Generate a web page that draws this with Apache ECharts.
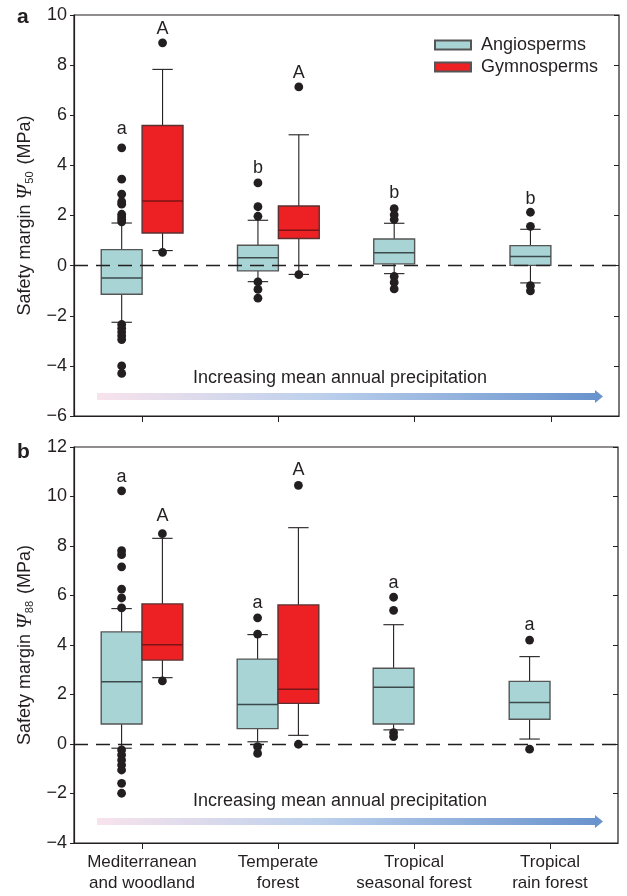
<!DOCTYPE html>
<html><head><meta charset="utf-8">
<script src="https://cdn.jsdelivr.net/npm/echarts@6/dist/echarts.min.js"></script>
<style>html,body{margin:0;padding:0;background:#fff}#c{width:627px;height:896px}</style>
</head><body><div id="c"></div>
<script>
// ---------- data ----------
const categories = ['Mediterranean\nand woodland', 'Temperate\nforest', 'Tropical\nseasonal forest', 'Tropical\nrain forest'];
const groupNames = ['Angiosperms', 'Gymnosperms'];

// panel a (Psi50): [lowerWhisker, Q1, median, Q3, upperWhisker]
const angioA = [[-2.26, -1.14, -0.49, 0.64, 1.70], [-0.64, -0.21, 0.31, 0.81, 1.81], [-0.32, 0.07, 0.51, 1.06, 1.69], [-0.69, 0.01, 0.36, 0.80, 1.45]];
const gymA = [[0.60, 1.30, 2.58, 5.59, 7.83], [-0.35, 1.08, 1.41, 2.38, 5.22]];
const angioOutA = [[4.7, 3.45, 2.85, 2.55, 2.45, 2.05, 1.95, 1.85, 1.75, -2.35, -2.5, -2.65, -2.8, -2.95, -4.0, -4.3], [3.3, 2.35, 1.97, -0.65, -0.95, -1.3], [2.27, 2.03, 1.84, -0.43, -0.67, -0.93], [2.13, 1.57, -0.8, -1.01]];
const gymOutA = [[8.89, 0.53], [7.13, -0.36]];
const angioLetA = ['a', 'b', 'b', 'b'];
const angioLetYA = [5.45, 3.9, 2.9, 2.66];
const gymLetA = ['A', 'A'];
const gymLetYA = [9.44, 7.69];

// panel b (Psi88)
const angioB = [[-0.17, 0.81, 2.52, 4.53, 5.47], [0.09, 0.62, 1.60, 3.43, 4.42], [0.57, 0.81, 2.29, 3.06, 4.82], [0.20, 1.00, 1.68, 2.53, 3.53]];
const gymB = [[2.68, 3.39, 4.01, 5.66, 8.31], [0.35, 1.64, 2.21, 5.62, 8.74]];
const angioOutB = [[10.23, 7.81, 7.65, 7.16, 6.26, 5.9, 5.5, -0.24, -0.44, -0.65, -0.85, -1.05, -1.59, -1.99], [5.1, 4.44, -0.11, -0.38], [5.93, 5.40, 0.46, 0.30], [4.20, -0.21]];
const gymOutB = [[8.50, 2.55], [10.45, -0.01]];
const angioLetB = ['a', 'a', 'a', 'a'];
const angioLetYB = [10.8, 5.69, 6.49, 4.81];
const gymLetB = ['A', 'A'];
const gymLetYB = [9.21, 11.07];

const yRangeA = [-6, 10, 2];
const yRangeB = [-4, 12, 2];
const arrowText = 'Increasing mean annual precipitation';

// ---------- styling ----------
const FONT = "'Liberation Sans', Arial, Helvetica, sans-serif";
const INK = '#231f20';
const ANGIO = '#a9d4d6';
const GYM = '#ed2024';

function boxRender(outliers, letters, letterY, side, fill, medColor, stroke) {
  return function (params, api) {
    const i = params.dataIndex;
    const cat = api.value(0);
    const band = api.size([1, 0])[0];
    const half = band * 0.15;
    const xc = api.coord([cat, 0])[0] + side * half;
    const Y = v => api.coord([cat, v])[1];
    const lo = api.value(1), q1 = api.value(2), med = api.value(3), q3 = api.value(4), hi = api.value(5);
    const cap = half * 0.5;
    const ls = { stroke: INK, lineWidth: 1.1 };
    const ch = [];
    ch.push({ type: 'line', shape: { x1: xc, y1: Y(hi), x2: xc, y2: Y(q3) }, style: ls });
    ch.push({ type: 'line', shape: { x1: xc, y1: Y(q1), x2: xc, y2: Y(lo) }, style: ls });
    ch.push({ type: 'line', shape: { x1: xc - cap, y1: Y(hi), x2: xc + cap, y2: Y(hi) }, style: ls });
    ch.push({ type: 'line', shape: { x1: xc - cap, y1: Y(lo), x2: xc + cap, y2: Y(lo) }, style: ls });
    ch.push({ type: 'rect', shape: { x: xc - half, y: Y(q3), width: 2 * half, height: Y(q1) - Y(q3) }, style: { fill: fill, stroke: stroke, lineWidth: 1.4 } });
    ch.push({ type: 'line', shape: { x1: xc - half, y1: Y(med), x2: xc + half, y2: Y(med) }, style: { stroke: medColor, lineWidth: 1.5 } });
    (outliers[i] || []).forEach(v => {
      ch.push({ type: 'circle', shape: { cx: xc, cy: Y(v), r: 4.4 }, style: { fill: INK } });
    });
    if (letters[i]) {
      ch.push({ type: 'text', style: { text: letters[i], x: xc, y: Y(letterY[i]), align: 'center', verticalAlign: 'middle', fontSize: 18, fontFamily: FONT, fill: INK } });
    }
    return { type: 'group', children: ch };
  };
}

const zeroLine = {
  silent: true, symbol: ['none', 'none'], label: { show: false },
  lineStyle: { color: INK, type: [14, 8], width: 1.3 },
  data: [{ yAxis: 0 }], z: 10
};

function yLeft(grid, r, sub) {
  return {
    type: 'value', gridIndex: grid, min: r[0], max: r[1], interval: r[2],
    axisLine: { show: true, lineStyle: { color: INK, width: 1.2 } },
    axisTick: { show: true, inside: false, length: 4, lineStyle: { color: INK } },
    axisLabel: { fontSize: 18, fontFamily: FONT, color: INK, margin: 7, formatter: v => String(v).replace('-', '\u2212') },
    splitLine: { show: false },
    name: '{t|Safety margin }{p|Ψ}{s|' + sub + '}{t| (MPa)}',
    nameLocation: 'middle', nameGap: 38,
    nameTextStyle: {
      rich: {
        t: { fontSize: 18, fontFamily: FONT, color: INK, lineHeight: 21 },
        p: { fontSize: 21, fontFamily: "'Liberation Serif', serif", fontStyle: 'italic', color: INK, lineHeight: 21 },
        s: { fontSize: 11, fontFamily: FONT, color: INK, verticalAlign: 'bottom', padding: [8, 2, 0, 1] }
      }
    }
  };
}
function yRight(grid, r) {
  return {
    type: 'value', gridIndex: grid, position: 'right', min: r[0], max: r[1], interval: r[2],
    axisLine: { show: false }, axisTick: { show: true, inside: true, length: 5, lineStyle: { color: INK } },
    axisLabel: { show: false }, splitLine: { show: false }
  };
}
function xCat(grid, showLabels) {
  return {
    type: 'category', gridIndex: grid, data: categories, boundaryGap: true,
    axisLine: { show: true, onZero: false, lineStyle: { color: INK, width: 1.2 } },
    axisTick: { show: true, alignWithLabel: true, length: 6, lineStyle: { color: INK } },
    axisLabel: { show: showLabels, fontSize: 17, lineHeight: 21, fontFamily: FONT, color: INK, margin: 9, interval: 0 },
    splitLine: { show: false }
  };
}

function arrow(yc, ytext) {
  return [
    { type: 'rect', shape: { x: 97, y: yc - 3.5, width: 499, height: 7 },
      style: { fill: new echarts.graphic.LinearGradient(0, 0, 1, 0, [
        { offset: 0, color: '#f8e3ec' }, { offset: 0.45, color: '#bcd0ec' }, { offset: 1, color: '#6993cd' }]) } },
    { type: 'polygon', shape: { points: [[595, yc - 6.5], [603, yc], [595, yc + 6.5]] }, style: { fill: '#6993cd' } },
    { type: 'text', style: { text: arrowText, x: 340, y: ytext, align: 'center', verticalAlign: 'middle', fontSize: 18, fontFamily: FONT, fill: INK } }
  ];
}

const chart = echarts.init(document.getElementById('c'), null, { renderer: 'canvas' });
chart.setOption({
  animation: false,
  backgroundColor: '#fff',
  grid: [
    { left: 74, top: 15, right: 8, bottom: 480, show: true, borderColor: INK, borderWidth: 1.2, backgroundColor: 'transparent' },
    { left: 74, top: 447, right: 9, bottom: 53, show: true, borderColor: INK, borderWidth: 1.2, backgroundColor: 'transparent' }
  ],
  legend: {
    data: groupNames, orient: 'vertical', left: 429, top: 31, itemWidth: 36, itemHeight: 9, itemGap: 4,
    icon: 'rect', textStyle: { fontSize: 18, fontFamily: FONT, color: INK, padding: [0, 0, 0, 5] },
    selectedMode: false
  },
  xAxis: [xCat(0, false), xCat(1, true)],
  yAxis: [yLeft(0, yRangeA, '50'), yRight(0, yRangeA), yLeft(1, yRangeB, '88'), yRight(1, yRangeB)],
  series: [
    { type: 'custom', name: groupNames[0], xAxisIndex: 0, yAxisIndex: 0,
      itemStyle: { color: ANGIO, borderColor: '#555', borderWidth: 1 },
      renderItem: boxRender(angioOutA, angioLetA, angioLetYA, -1, ANGIO, '#3d4a4b', '#555'),
      data: angioA.map((b, i) => [i].concat(b)), encode: { x: 0, y: [1, 2, 3, 4, 5] }, markLine: zeroLine },
    { type: 'custom', name: groupNames[1], xAxisIndex: 0, yAxisIndex: 0,
      itemStyle: { color: GYM, borderColor: '#555', borderWidth: 1 },
      renderItem: boxRender(gymOutA, gymLetA, gymLetYA, 1, GYM, '#7a1416', '#5a3030'),
      data: gymA.map((b, i) => [i].concat(b)), encode: { x: 0, y: [1, 2, 3, 4, 5] } },
    { type: 'custom', name: groupNames[0], xAxisIndex: 1, yAxisIndex: 2,
      itemStyle: { color: ANGIO, borderColor: '#555', borderWidth: 1 },
      renderItem: boxRender(angioOutB, angioLetB, angioLetYB, -1, ANGIO, '#3d4a4b', '#555'),
      data: angioB.map((b, i) => [i].concat(b)), encode: { x: 0, y: [1, 2, 3, 4, 5] }, markLine: zeroLine },
    { type: 'custom', name: groupNames[1], xAxisIndex: 1, yAxisIndex: 2,
      itemStyle: { color: GYM, borderColor: '#555', borderWidth: 1 },
      renderItem: boxRender(gymOutB, gymLetB, gymLetYB, 1, GYM, '#7a1416', '#5a3030'),
      data: gymB.map((b, i) => [i].concat(b)), encode: { x: 0, y: [1, 2, 3, 4, 5] } }
  ],
  graphic: [
    { type: 'text', left: 17, top: 7, style: { text: 'a', fontSize: 21, fontWeight: 'bold', fontFamily: FONT, fill: INK } },
    { type: 'text', left: 17, top: 442, style: { text: 'b', fontSize: 21, fontWeight: 'bold', fontFamily: FONT, fill: INK } }
  ].concat(arrow(396.5, 378.5)).concat(arrow(821.5, 801.5))
});
</script>
</body></html>
